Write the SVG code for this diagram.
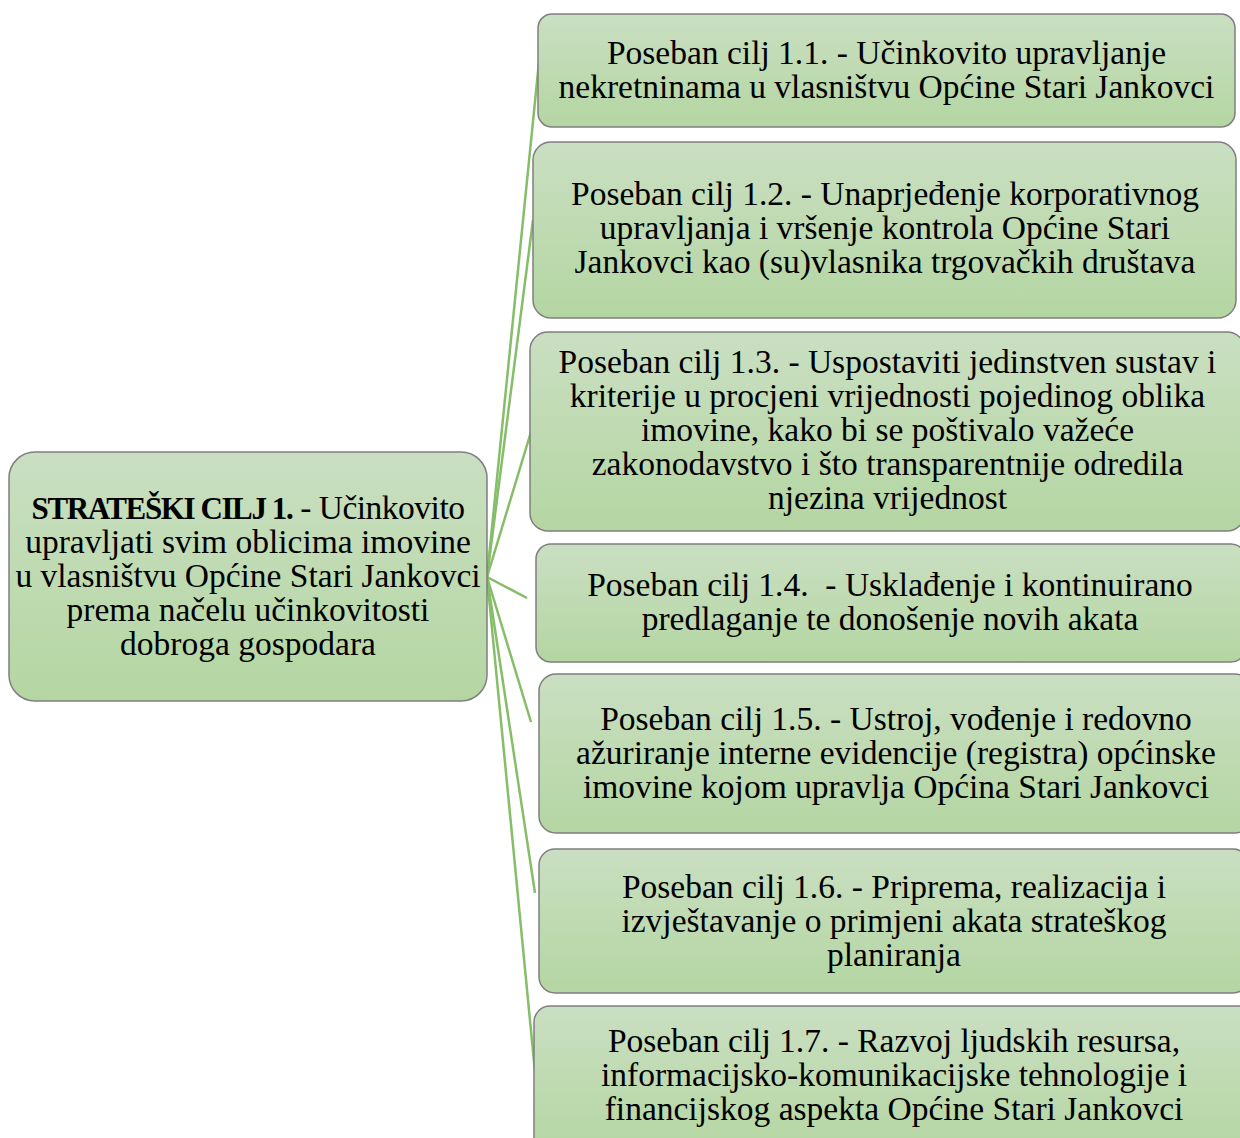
<svg xmlns="http://www.w3.org/2000/svg" width="1240" height="1138" viewBox="0 0 1240 1138">
<defs>
<linearGradient id="g" x1="0" y1="0" x2="0" y2="1">
<stop offset="0" stop-color="#cadfc2"/>
<stop offset="1" stop-color="#b4d6a2"/>
</linearGradient>
<style>
.box{fill:url(#g);stroke:#7f7f7f;stroke-width:1.5}
.t{font-family:"Liberation Serif","Times New Roman",serif;font-size:33.5px;fill:#000;text-anchor:middle}
.c line{stroke:#86bd68;stroke-width:2.5}
</style>
</defs>
<rect width="1240" height="1138" fill="#fff"/>
<g id="connectors" class="c">
<line x1="487" y1="577" x2="539" y2="62"/>
<line x1="487" y1="577" x2="533" y2="220"/>
<line x1="487" y1="577" x2="534" y2="422"/>
<line x1="487" y1="577" x2="527" y2="598"/>
<line x1="487" y1="577" x2="531" y2="722"/>
<line x1="487" y1="577" x2="535" y2="893"/>
<line x1="487" y1="577" x2="535" y2="1072"/>
</g>
<g id="center">
<rect class="box" x="9" y="452" width="478" height="249" rx="26"/>
<text class="t"><tspan x="248" y="519"><tspan font-weight="bold" font-size="31" letter-spacing="-1.4">STRATEŠKI CILJ 1.</tspan><tspan letter-spacing="-0.5"> - Učinkovito</tspan></tspan><tspan x="248" y="553">upravljati svim oblicima imovine</tspan><tspan x="248" y="587">u vlasništvu Općine Stari Jankovci</tspan><tspan x="248" y="621">prema načelu učinkovitosti</tspan><tspan x="248" y="655">dobroga gospodara</tspan></text>
</g>
<g id="goal11">
<rect class="box" x="538" y="14" width="697" height="113" rx="14"/>
<text class="t"><tspan x="886.5" y="64">Poseban cilj 1.1. - Učinkovito upravljanje</tspan><tspan x="886.5" y="98">nekretninama u vlasništvu Općine Stari Jankovci</tspan></text>
</g>
<g id="goal12">
<rect class="box" x="533" y="142" width="703" height="176" rx="18"/>
<text class="t"><tspan x="885" y="205">Poseban cilj 1.2. - Unaprjeđenje korporativnog</tspan><tspan x="885" y="239">upravljanja i vršenje kontrola Općine Stari</tspan><tspan x="885" y="273">Jankovci kao (su)vlasnika trgovačkih društava</tspan></text>
</g>
<g id="goal13">
<rect class="box" x="530" y="332" width="715" height="199" rx="18"/>
<text class="t"><tspan x="887.5" y="373">Poseban cilj 1.3. - Uspostaviti jedinstven sustav i</tspan><tspan x="887.5" y="407">kriterije u procjeni vrijednosti pojedinog oblika</tspan><tspan x="887.5" y="441">imovine, kako bi se poštivalo važeće</tspan><tspan x="887.5" y="475">zakonodavstvo i što transparentnije odredila</tspan><tspan x="887.5" y="509">njezina vrijednost</tspan></text>
</g>
<g id="goal14">
<rect class="box" x="536" y="544" width="710" height="118" rx="15"/>
<text class="t" xml:space="preserve"><tspan x="890" y="596">Poseban cilj 1.4.  - Usklađenje i kontinuirano</tspan><tspan x="890" y="630">predlaganje te donošenje novih akata</tspan></text>
</g>
<g id="goal15">
<rect class="box" x="539" y="674" width="713" height="159" rx="17"/>
<text class="t"><tspan x="896" y="729.5">Poseban cilj 1.5. - Ustroj, vođenje i redovno</tspan><tspan x="896" y="763.5">ažuriranje interne evidencije (registra) općinske</tspan><tspan x="896" y="797.5">imovine kojom upravlja Općina Stari Jankovci</tspan></text>
</g>
<g id="goal16">
<rect class="box" x="539" y="849" width="710" height="144" rx="16"/>
<text class="t"><tspan x="894" y="897.5">Poseban cilj 1.6. - Priprema, realizacija i</tspan><tspan x="894" y="931.5">izvještavanje o primjeni akata strateškog</tspan><tspan x="894" y="965.5">planiranja</tspan></text>
</g>
<g id="goal17">
<rect class="box" x="534" y="1006" width="720" height="150" rx="16"/>
<text class="t"><tspan x="894" y="1051.5">Poseban cilj 1.7. - Razvoj ljudskih resursa,</tspan><tspan x="894" y="1085.5">informacijsko-komunikacijske tehnologije i</tspan><tspan x="894" y="1119.5">financijskog aspekta Općine Stari Jankovci</tspan></text>
</g>
</svg>
